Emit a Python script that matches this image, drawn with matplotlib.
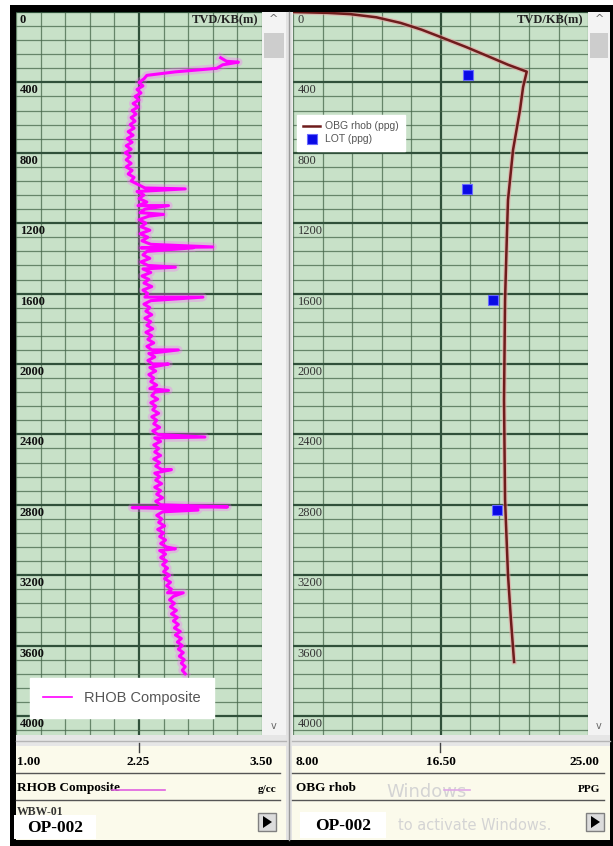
import numpy as np
import matplotlib
matplotlib.use("Agg")
import matplotlib.pyplot as plt
from matplotlib.patches import Rectangle, Polygon

# ---------------- data ----------------
rhob_start, rhob_step = 260, 20
rhob_values = [
    3.08, 3.14, 3.10, 3.04, 2.62, 2.33, 2.30, 2.25, 2.29, 2.23,
    2.27, 2.21, 2.25, 2.19, 2.24, 2.18, 2.22, 2.17, 2.21, 2.16,
    2.20, 2.14, 2.19, 2.13, 2.18, 2.12, 2.17, 2.11, 2.16, 2.12,
    2.17, 2.12, 2.18, 2.14, 2.20, 2.17, 2.24, 2.31, 2.23, 2.30,
    2.25, 2.33, 2.24, 2.31, 2.26, 2.35, 2.25, 2.32, 2.27, 2.36,
    2.26, 2.34, 2.28, 2.37, 2.27, 2.33, 2.29, 2.36, 2.27, 2.34,
    2.29, 2.37, 2.28, 2.35, 2.30, 2.38, 2.29, 2.34, 2.31, 2.37,
    2.30, 2.36, 2.32, 2.38, 2.31, 2.37, 2.33, 2.39, 2.32, 2.38,
    2.34, 2.40, 2.33, 2.38, 2.35, 2.41, 2.34, 2.39, 2.36, 2.42,
    2.35, 2.40, 2.37, 2.43, 2.36, 2.41, 2.38, 2.44, 2.37, 2.42,
    2.39, 2.45, 2.38, 2.43, 2.40, 2.46, 2.39, 2.44, 2.41, 2.47,
    2.40, 2.45, 2.41, 2.47, 2.40, 2.46, 2.42, 2.48, 2.41, 2.46,
    2.42, 2.48, 2.41, 2.47, 2.43, 2.49, 2.42, 2.47, 2.44, 2.49,
    2.43, 2.48, 2.45, 2.51, 2.44, 2.50, 2.46, 2.52, 2.47, 2.53,
    2.46, 2.52, 2.47, 2.53, 2.49, 2.54, 2.50, 2.56, 2.51, 2.57,
    2.53, 2.58, 2.54, 2.60, 2.56, 2.61, 2.57, 2.63, 2.58, 2.64,
    2.60, 2.65, 2.61, 2.67, 2.62, 2.68, 2.64, 2.69, 2.65, 2.70,
    2.66, 2.71, 2.68, 2.72, 2.69, 2.72,
]
spike_depths = [285, 1005, 1100, 1150, 1335, 1340, 1450, 1620, 1920, 2000,
                2150, 2415, 2600, 2812, 2816, 2830, 3050, 3300]
spike_values = [3.26, 2.72, 2.55, 2.50, 3.00, 2.80, 2.62, 2.90, 2.65, 2.55,
                2.55, 2.92, 2.58, 3.15, 2.18, 2.85, 2.62, 2.70]

obg_depth = [0, 5, 12, 30, 62, 100, 142, 200, 256, 300, 339, 426, 557, 784,
             1068, 1256, 1636, 2204, 2773, 3199, 3455, 3693]
obg_ppg = [8.0, 10.0, 11.3, 12.8, 14.2, 15.4, 16.5, 18.0, 19.35, 20.4, 21.47,
           21.26, 21.08, 20.68, 20.39, 20.33, 20.22, 20.16, 20.22, 20.39,
           20.56, 20.74]

lot_depth = [358, 1006, 1636, 2830]
lot_ppg = [18.09, 18.03, 19.53, 19.76]

depth_ticks = [0, 400, 800, 1200, 1600, 2000, 2400, 2800, 3200, 3600, 4000]
rhob_scale = ["1.00", "2.25", "3.50"]
obg_scale = ["8.00", "16.50", "25.00"]

# ---------------- layout ----------------
W, H = 613, 846
fig = plt.figure(figsize=(W / 100, H / 100), dpi=100)
fig.patch.set_facecolor("white")


def fbox(x0, y0, x1, y1):
    return [x0 / W, 1 - y1 / H, (x1 - x0) / W, (y1 - y0) / H]


bg = fig.add_axes([0, 0, 1, 1])
bg.set_xlim(0, W)
bg.set_ylim(H, 0)
bg.axis("off")


def rect(x0, y0, x1, y1, fc, ec="none", lw=0, z=1):
    bg.add_patch(Rectangle((x0, y0), x1 - x0, y1 - y0, facecolor=fc,
                           edgecolor=ec, linewidth=lw, zorder=z))


rect(10, 5, 613, 846, "black")
rect(16, 12, 610, 840, "#ececec")
# scrollbars
for sx0, sx1 in [(262, 286), (588, 610)]:
    rect(sx0, 12, sx1, 735, "#f3f3f3")
    rect(sx0 + 2, 33, sx1 - 2, 58, "#cdcdcd")
    bg.text((sx0 + sx1) / 2, 19, "^", ha="center", va="center",
            fontsize=8, color="#666666", zorder=3)
    bg.text((sx0 + sx1) / 2, 726, "v", ha="center", va="center",
            fontsize=7, color="#666666", zorder=3)
rect(286, 12, 292, 840, "#e2e2e2")
bg.plot([289, 289], [12, 840], color="#9a9a9a", lw=1, zorder=2)
# band under plots & header
for hx0, hx1 in [(16, 286), (292, 610)]:
    rect(hx0, 735, hx1, 746, "#e6e6e6")
    bg.plot([hx0, hx1], [741, 741], color="#b5b5b5", lw=1, zorder=2)
    rect(hx0, 746, hx1, 840, "#fbfaeb")
    bg.plot([hx0, hx1 - 6], [773, 773], color="#555555", lw=1, zorder=2)
    bg.plot([hx0, hx1 - 6], [800, 800], color="#555555", lw=1, zorder=2)

serif = ["Liberation Serif", "DejaVu Serif"]

# header texts left
bg.plot([139, 139], [743, 752], color="#444444", lw=1, zorder=3)
bg.text(17, 762, rhob_scale[0], ha="left", va="center", fontsize=9.5,
        family=serif, weight="bold", zorder=3)
bg.text(138, 762, rhob_scale[1], ha="center", va="center", fontsize=9.5,
        family=serif, weight="bold", zorder=3)
bg.text(273, 762, rhob_scale[2], ha="right", va="center", fontsize=9.5,
        family=serif, weight="bold", zorder=3)
bg.text(17, 788, "RHOB Composite", ha="left", va="center", fontsize=9.5,
        family=serif, weight="bold", zorder=3)
bg.plot([112, 165], [790, 790], color="#e060e0", lw=1.2, zorder=3)
bg.text(276, 789, "g/cc", ha="right", va="center", fontsize=8,
        family=serif, weight="bold", zorder=3)
bg.text(17, 812, "WBW-01", ha="left", va="center", fontsize=8.5,
        family=serif, weight="bold", color="#333333", zorder=3)

# header texts right
bg.plot([440, 440], [743, 752], color="#444444", lw=1, zorder=3)
bg.text(296, 762, obg_scale[0], ha="left", va="center", fontsize=9.5,
        family=serif, weight="bold", zorder=3)
bg.text(441, 762, obg_scale[1], ha="center", va="center", fontsize=9.5,
        family=serif, weight="bold", zorder=3)
bg.text(599, 762, obg_scale[2], ha="right", va="center", fontsize=9.5,
        family=serif, weight="bold", zorder=3)
bg.text(296, 788, "OBG rhob", ha="left", va="center", fontsize=9.5,
        family=serif, weight="bold", zorder=3)
bg.plot([444, 470], [790, 790], color="#e0a8e8", lw=1.2, zorder=3)
bg.text(600, 790, "PPG", ha="right", va="center", fontsize=8,
        family=serif, weight="bold", zorder=3)

# watermark (visible parts)
bg.text(386, 792, "Windows", ha="left", va="center", fontsize=13,
        color="#d4d4d4", zorder=2.5, family="DejaVu Sans")
bg.text(398, 825, "to activate Windows.", ha="left",
        va="center", fontsize=10.5, color="#d4d4d4", zorder=2.5,
        family="DejaVu Sans")

# OP-002 boxes
for bx0, by0, bx1, by1 in [(14, 815, 96, 839), (300, 812, 386, 838)]:
    rect(bx0, by0, bx1, by1, "white", z=4)
    bg.text((bx0 + bx1) / 2, (by0 + by1) / 2 + 1, "OP-002", ha="center",
            va="center", fontsize=12.5, family=serif, weight="bold", zorder=5)

# buttons
for ux in [258, 586]:
    rect(ux, 813, ux + 18, 831, "#dcdcdc", ec="#808080", lw=1, z=4)
    bg.add_patch(Polygon([[ux + 5, 816], [ux + 5, 828], [ux + 14, 822]],
                         closed=True, facecolor="black", zorder=5))

# ---------------- track axes ----------------
GREEN = "#c8e1c8"
DEPTH_MAX = 4108


def style_track(ax, xmin, xmax, ndiv):
    ax.set_facecolor(GREEN)
    ax.set_xlim(xmin, xmax)
    ax.set_ylim(DEPTH_MAX, 0)
    step = (xmax - xmin) / ndiv
    ax.set_xticks([xmin + step * ndiv / 2])
    ax.set_xticks([xmin + step * i for i in range(ndiv + 1)], minor=True)
    ax.set_yticks(np.arange(0, DEPTH_MAX, 400))
    ax.set_yticks(np.arange(0, DEPTH_MAX, 80), minor=True)
    ax.grid(which="minor", color="#46664a", lw=0.9, alpha=0.75)
    ax.grid(which="major", color="#30503a", lw=1.6)
    ax.tick_params(which="both", length=0, labelbottom=False,
                   labelleft=False)
    for s in ax.spines.values():
        s.set_visible(False)
    ax.set_axisbelow(True)


axL = fig.add_axes(fbox(16, 12, 262, 735))
style_track(axL, 1.0, 3.5, 10)
axR = fig.add_axes(fbox(293, 12, 588, 735))
style_track(axR, 8.0, 25.0, 10)

# depth labels
for ax, wt, col in [(axL, "bold", "#111111"), (axR, "normal", "#333333")]:
    for d in depth_ticks:
        ax.text(0.015, d + 45, str(d), transform=ax.get_yaxis_transform(),
                ha="left", va="center", fontsize=9, family=serif,
                weight=wt, color=col, zorder=6)
    ax.text(0.985, 45, "TVD/KB(m)", transform=ax.get_yaxis_transform(),
            ha="right", va="center", fontsize=9, family=serif,
            weight="bold", color="#222222", zorder=6)

# RHOB curve
rhob_depth = rhob_start + rhob_step * np.arange(len(rhob_values))
all_d = np.concatenate([rhob_depth, spike_depths])
all_v = np.concatenate([rhob_values, spike_values])
order = np.argsort(all_d, kind="stable")
axL.plot(all_v[order], all_d[order], color="#ff66ff", lw=6, alpha=0.3,
         zorder=3)
axL.plot(all_v[order], all_d[order], color="#ff00ff", lw=2.2, zorder=4,
         label="RHOB Composite")

# OBG and LOT
axR.plot(obg_ppg, obg_depth, color="#e8a0a0", lw=3.5, alpha=0.6, zorder=3)
axR.plot(obg_ppg, obg_depth, color="#6e1c1c", lw=1.8, zorder=4,
         label="OBG rhob (ppg)")
axR.plot(lot_ppg, lot_depth, ls="none", marker="s", ms=7.5,
         color="#0a0ae6", markeredgecolor="#6a6aff", markeredgewidth=0.8,
         zorder=5, label="LOT (ppg)")

legL = axL.legend(loc="lower left", bbox_to_anchor=(30 / W, 1 - 718 / H),
                  bbox_transform=fig.transFigure, borderaxespad=0,
                  frameon=True, fancybox=False, framealpha=1,
                  edgecolor="white", handlelength=2.0, borderpad=0.9,
                  prop={"family": "Liberation Sans", "size": 10.5})
legL.get_texts()[0].set_color("#555555")
legL.get_lines()[0].set_linewidth(1.2)
legR = axR.legend(loc="upper left", bbox_to_anchor=(297 / W, 1 - 115 / H),
                  bbox_transform=fig.transFigure, borderaxespad=0,
                  frameon=True, fancybox=False, framealpha=1,
                  edgecolor="white", handlelength=1.6, borderpad=0.6,
                  labelspacing=0.3, handletextpad=0.5,
                  prop={"family": "Liberation Sans", "size": 7.5})
for t in legR.get_texts():
    t.set_color("#555555")

fig.savefig("out.png", dpi=100)
